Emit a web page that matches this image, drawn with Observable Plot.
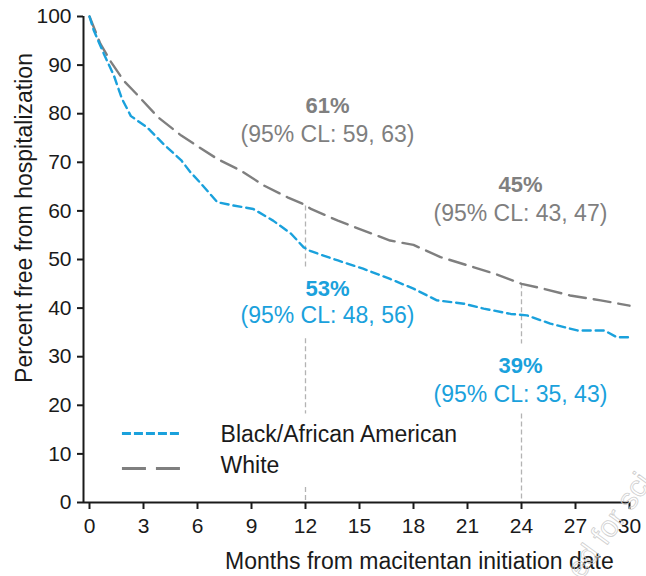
<!DOCTYPE html>
<html><head><meta charset="utf-8">
<script src="https://cdn.jsdelivr.net/npm/d3@7"></script>
<script src="https://cdn.jsdelivr.net/npm/@observablehq/plot@0.6"></script>
<style>html,body{margin:0;padding:0;background:#fff}</style>
</head><body><div id="chart"></div>
<script>
// ---- data ----
const seriesNames = ["Black/African American", "White"];
const whiteMonths = [0, 0.6, 1.2, 1.9, 2.6, 3.8, 5.1, 5.8, 7.1, 8.4, 9.7, 11.0, 12.0, 12.3, 13.8, 15.2, 16.7, 18.0, 19.5, 21.0, 22.5, 24.0, 25.2, 26.7, 28.4, 30.0];
const whiteValues = [100, 94.4, 90.6, 86.8, 84.1, 79.3, 75.5, 73.8, 70.7, 68.3, 65.2, 62.8, 61.2, 60.4, 58.0, 56.0, 53.9, 53.0, 50.5, 48.8, 47.1, 45.0, 44.0, 42.6, 41.6, 40.5];
const blackMonths = [0, 0.24, 0.8, 1.35, 1.8, 2.3, 3.2, 4.1, 5.1, 5.6, 6.2, 7.1, 8.0, 9.1, 10.2, 11.2, 11.9, 12.3, 13.0, 13.8, 15.2, 16.7, 18.0, 19.3, 20.8, 21.9, 23.4, 24.3, 25.6, 27.1, 28.6, 29.3, 30.0];
const blackValues = [100, 97.1, 92.3, 87.9, 83.1, 79.5, 77.2, 73.8, 70.4, 68.0, 65.6, 61.8, 61.1, 60.4, 58.0, 55.3, 52.5, 51.7, 50.8, 49.8, 48.1, 46.0, 44.0, 41.6, 40.9, 39.9, 38.8, 38.5, 36.8, 35.4, 35.4, 34.0, 34.0];
const xTicks = [0, 3, 6, 9, 12, 15, 18, 21, 24, 27, 30];
const yTicks = [0, 10, 20, 30, 40, 50, 60, 70, 80, 90, 100];
const landmarkMonths = [12, 24];
const whitePct = [61, 45];
const whiteCI = [[59, 63], [43, 47]];
const blackPct = [53, 39];
const blackCI = [[48, 56], [35, 43]];
const xTitle = "Months from macitentan initiation date";
const yTitle = "Percent free from hospitalization";
const watermark = "ed for sci";

// ---- layout / style ----
const FONT = "'Liberation Sans', Arial, Helvetica, sans-serif";
const BLUE = "#1aa1dc", GRAY = "#7f7f7f", INK = "#1a1a1a", REF = "#b3b3b3";
const xDomain = [-1 / 3, 30];
const whiteLabelX = [13.22, 23.94], whitePctY = [81.6, 65.4], whiteCiY = [75.7, 59.5];
const blackLabelX = [13.22, 23.94], blackPctY = [44.0, 28.0], blackCiY = [38.4, 22.2];
// visible pieces of the landmark guide lines (gaps where labels sit)
const refPieces = [[0, 61, 48.4], [0, 33.7, 18.2], [0, 3.1, 0], [1, 45, 32.6], [1, 18.2, 0]];
const legendSample = [1.83, 5.06], legendTextX = 7.28, legendLineY = [14.2, 7.0], legendTextY = [13.9, 7.5];

const white = whiteMonths.map((m, i) => ({month: m, value: whiteValues[i]}));
const black = blackMonths.map((m, i) => ({month: m, value: blackValues[i]}));
const refs = refPieces.map(([k, a, b]) => ({month: landmarkMonths[k], from: a, to: b}));
const wLab = landmarkMonths.map((m, i) => ({x: whiteLabelX[i], yp: whitePctY[i], yc: whiteCiY[i], pct: whitePct[i] + "%", ci: `(95% CL: ${whiteCI[i][0]}, ${whiteCI[i][1]})`}));
const bLab = landmarkMonths.map((m, i) => ({x: blackLabelX[i], yp: blackPctY[i], yc: blackCiY[i], pct: blackPct[i] + "%", ci: `(95% CL: ${blackCI[i][0]}, ${blackCI[i][1]})`}));
const legend = seriesNames.map((n, i) => ({name: n, y: legendLineY[i], ty: legendTextY[i]}));

const chart = Plot.plot({
  width: 646, height: 576,
  marginLeft: 83, marginRight: 17, marginTop: 16, marginBottom: 74,
  style: {fontFamily: FONT, fontSize: "21px", color: INK, background: "#fff"},
  x: {domain: xDomain},
  y: {domain: [0, 100]},
  marks: [
    Plot.ruleX(refs, {x: "month", y1: "from", y2: "to", stroke: REF, strokeWidth: 1.3, strokeDasharray: "5,3"}),
    Plot.line(white, {x: "month", y: "value", stroke: GRAY, strokeWidth: 2.4, strokeDasharray: "17,8"}),
    Plot.line(black, {x: "month", y: "value", stroke: BLUE, strokeWidth: 2.4, strokeDasharray: "8,5"}),
    Plot.ruleY([0], {stroke: INK, strokeWidth: 2}),
    Plot.ruleX([xDomain[0]], {stroke: INK, strokeWidth: 2}),
    Plot.axisX({ticks: xTicks, tickSize: 7, tickPadding: 9, fontSize: 21, strokeWidth: 2, color: INK, label: null, tickFormat: d => String(d)}),
    Plot.axisY({ticks: yTicks, tickSize: 6, tickPadding: 6, fontSize: 21, strokeWidth: 2, color: INK, label: null, tickFormat: d => String(d)}),
    Plot.text(wLab, {x: "x", y: "yp", text: "pct", fill: GRAY, fontWeight: "bold", fontSize: 22}),
    Plot.text(wLab, {x: "x", y: "yc", text: "ci", fill: GRAY, fontSize: 23}),
    Plot.text(bLab, {x: "x", y: "yp", text: "pct", fill: BLUE, fontWeight: "bold", fontSize: 22}),
    Plot.text(bLab, {x: "x", y: "yc", text: "ci", fill: BLUE, fontSize: 23}),
    Plot.ruleY(legend.slice(0, 1), {x1: legendSample[0], x2: legendSample[1], y: "y", stroke: BLUE, strokeWidth: 3, strokeDasharray: "9,3"}),
    Plot.ruleY(legend.slice(1), {x1: legendSample[0], x2: legendSample[1], y: "y", stroke: GRAY, strokeWidth: 3.2, strokeDasharray: "24,10"}),
    Plot.text(legend, {x: legendTextX, y: "ty", text: "name", textAnchor: "start", fill: INK, fontSize: 23}),
    Plot.text([xTitle], {x: 18.33, frameAnchor: "bottom", dy: 66, lineAnchor: "bottom", textAnchor: "middle", text: d => d, fill: INK, fontSize: 23}),
    Plot.text([yTitle], {frameAnchor: "left", dx: -58.4, dy: -41.5, rotate: -90, textAnchor: "middle", lineAnchor: "middle", text: d => d, fill: INK, fontSize: 23}),
    Plot.text([watermark], {frameAnchor: "bottom-right", dx: -48, dy: 78, rotate: -54, textAnchor: "start", lineAnchor: "bottom", text: d => d, fontSize: 30, fill: "none", stroke: "#cfcfcf", strokeWidth: 0.8})
  ]
});
document.getElementById("chart").appendChild(chart);
</script>
</body></html>
